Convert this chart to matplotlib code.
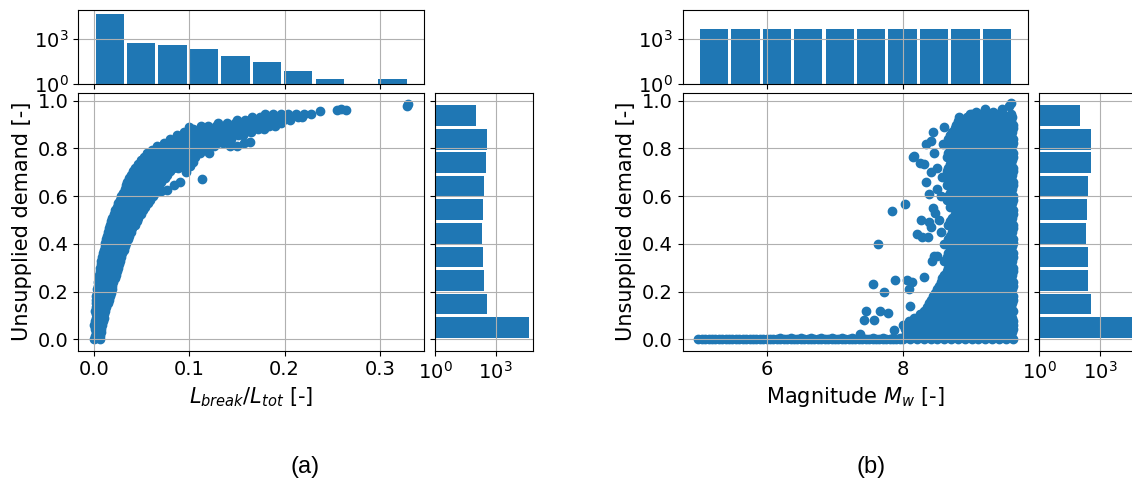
import matplotlib.pyplot as plt
from matplotlib.ticker import NullLocator

# ---- histogram data (counts) ----
demand_edges = [0.0, 0.0987, 0.1974, 0.2961, 0.3948, 0.4935, 0.5922, 0.6909, 0.7896, 0.8883, 0.987]
demand_counts = [44700, 372, 270, 245, 214, 234, 263, 347, 355, 102]

lbreak_edges = [0.0, 0.033, 0.066, 0.099, 0.132, 0.165, 0.198, 0.231, 0.264, 0.297, 0.33]
lbreak_counts = [45800, 510, 380, 218, 75, 30, 7, 2, 0, 2]

mag_edges = [5.0, 5.46, 5.92, 6.38, 6.84, 7.3, 7.76, 8.22, 8.68, 9.14, 9.6]
mag_counts = [4600, 4600, 4600, 4600, 4600, 4600, 4600, 4600, 4600, 4600]

# ---- scatter (a): L_break/L_tot vs unsupplied demand, rows of (y, xs) ----
lbreak_rows = [
    (0.00, [0.000, 0.006]),
    (0.015, [0.001, 0.006]),
    (0.03, [0.002, 0.007]),
    (0.045, [0.001, 0.007]),
    (0.06, [0.000, 0.008]),
    (0.075, [0.001, 0.009]),
    (0.09, [0.002, 0.010]),
    (0.105, [0.002, 0.010]),
    (0.12, [0.001, 0.009, 0.012]),
    (0.135, [0.002, 0.008, 0.013]),
    (0.15, [0.002, 0.010, 0.015]),
    (0.165, [0.002, 0.009, 0.016]),
    (0.18, [0.002, 0.010, 0.017]),
    (0.195, [0.003, 0.010, 0.018]),
    (0.21, [0.003, 0.011, 0.019]),
    (0.225, [0.004, 0.011, 0.019]),
    (0.24, [0.004, 0.012, 0.020]),
    (0.255, [0.005, 0.012, 0.019, 0.022]),
    (0.27, [0.005, 0.013, 0.021, 0.023]),
    (0.285, [0.006, 0.013, 0.020, 0.024]),
    (0.30, [0.006, 0.014, 0.022, 0.025]),
    (0.315, [0.007, 0.014, 0.021, 0.026]),
    (0.33, [0.007, 0.015, 0.023, 0.027]),
    (0.345, [0.008, 0.016, 0.023, 0.028]),
    (0.36, [0.009, 0.017, 0.025, 0.029]),
    (0.375, [0.010, 0.018, 0.026, 0.031]),
    (0.39, [0.011, 0.019, 0.027, 0.032]),
    (0.405, [0.012, 0.020, 0.028, 0.034]),
    (0.42, [0.013, 0.021, 0.029, 0.036]),
    (0.435, [0.014, 0.022, 0.030, 0.037]),
    (0.45, [0.015, 0.023, 0.031, 0.039]),
    (0.465, [0.016, 0.024, 0.032, 0.040]),
    (0.48, [0.017, 0.025, 0.033, 0.041, 0.043]),
    (0.495, [0.018, 0.026, 0.034, 0.042, 0.045]),
    (0.51, [0.019, 0.027, 0.035, 0.043, 0.046]),
    (0.525, [0.021, 0.029, 0.037, 0.045, 0.049]),
    (0.54, [0.022, 0.030, 0.038, 0.046, 0.051]),
    (0.555, [0.024, 0.032, 0.040, 0.048, 0.054]),
    (0.57, [0.025, 0.033, 0.041, 0.049, 0.057]),
    (0.585, [0.027, 0.035, 0.043, 0.051, 0.059]),
    (0.60, [0.028, 0.036, 0.044, 0.052, 0.060, 0.062]),
    (0.615, [0.030, 0.038, 0.046, 0.054, 0.062, 0.064]),
    (0.63, [0.032, 0.040, 0.048, 0.056, 0.064, 0.066]),
    (0.645, [0.034, 0.042, 0.050, 0.058, 0.066, 0.068]),
    (0.66, [0.035, 0.043, 0.051, 0.059, 0.067, 0.070]),
    (0.675, [0.037, 0.045, 0.053, 0.061, 0.069, 0.074]),
    (0.69, [0.039, 0.047, 0.055, 0.063, 0.071, 0.077]),
    (0.705, [0.041, 0.049, 0.057, 0.065, 0.073, 0.080]),
    (0.72, [0.043, 0.051, 0.059, 0.067, 0.075, 0.083, 0.088]),
    (0.735, [0.046, 0.054, 0.062, 0.070, 0.078, 0.086, 0.093]),
    (0.75, [0.049, 0.057, 0.065, 0.073, 0.081, 0.089, 0.097, 0.101]),
    (0.765, [0.052, 0.060, 0.068, 0.076, 0.084, 0.092, 0.100, 0.106]),
    (0.78, [0.056, 0.064, 0.072, 0.080, 0.088, 0.096, 0.104, 0.111]),
    (0.795, [0.061, 0.069, 0.077, 0.085, 0.093, 0.101, 0.109, 0.117]),
    (0.81, [0.066, 0.074, 0.082, 0.090, 0.098, 0.106, 0.114, 0.122, 0.126]),
    (0.825, [0.073, 0.081, 0.089, 0.097, 0.105, 0.113, 0.121, 0.129, 0.135]),
    (0.84, [0.080, 0.088, 0.096, 0.104, 0.112, 0.120, 0.128, 0.136, 0.144]),
    (0.855, [0.087, 0.095, 0.103, 0.111, 0.119, 0.127, 0.135, 0.143, 0.151, 0.156]),
    (0.87, [0.094, 0.102, 0.110, 0.118, 0.126, 0.134, 0.142, 0.150, 0.158, 0.165]),
    (0.883, [0.104, 0.114, 0.124, 0.132, 0.140, 0.148, 0.156, 0.164, 0.172, 0.178]),
    (0.895, [0.112, 0.120, 0.128, 0.136, 0.144, 0.152, 0.160, 0.168, 0.176, 0.184, 0.190]),
    (0.908, [0.130, 0.140, 0.148, 0.156, 0.164, 0.172, 0.180, 0.188, 0.196]),
    (0.92, [0.150, 0.158, 0.166, 0.174, 0.182, 0.190, 0.198, 0.206]),
    (0.933, [0.166, 0.174, 0.182, 0.190, 0.198, 0.206, 0.214, 0.218]),
    (0.945, [0.180, 0.188, 0.196, 0.204, 0.212, 0.220, 0.228]),
]
lbreak_extra_x = [0.070, 0.077, 0.084, 0.090, 0.097, 0.101, 0.104, 0.113, 0.121, 0.143,
                  0.150, 0.157, 0.164, 0.100, 0.237, 0.255, 0.259, 0.265, 0.329, 0.330]
lbreak_extra_y = [0.620, 0.625, 0.645, 0.660, 0.700, 0.725, 0.745, 0.670, 0.780, 0.812,
                  0.812, 0.825, 0.828, 0.892, 0.958, 0.962, 0.966, 0.962, 0.978, 0.985]

# ---- scatter (b): magnitude vs unsupplied demand, rows of (y, xs) ----
mag_rows = [
    (0.00, [5.0, 5.1, 5.2, 5.3, 5.4, 5.5, 5.6, 5.7, 5.8, 5.9, 6.0, 6.1, 6.2, 6.3, 6.4, 6.5,
            6.6, 6.7, 6.8, 6.9, 7.0, 7.1, 7.2, 7.3, 7.4, 7.5, 7.6, 7.7, 7.8, 7.9, 8.0, 8.1,
            8.2, 8.3, 8.4, 8.5, 8.6, 8.7, 8.8, 8.9, 9.0, 9.1, 9.2, 9.3, 9.4, 9.5, 9.6]),
    (0.00, [5.05, 5.15, 5.25, 5.35, 5.45, 5.55, 5.65, 5.75, 5.85, 5.95, 6.05, 6.15, 6.25,
            6.35, 6.45, 6.55, 6.65, 6.75, 6.85, 6.95, 7.05, 7.15, 7.25, 7.35, 7.45, 7.55,
            7.65, 7.75, 7.85, 7.95]),
    (0.006, [6.2, 6.35, 6.5, 6.65, 6.8, 6.95, 7.1, 7.25, 7.4, 7.55, 7.7, 7.85, 7.95]),
    (0.015, [8.02, 8.13, 8.24, 8.35, 8.46, 8.58, 8.69, 8.80, 8.91, 9.02, 9.13, 9.24, 9.35, 9.46, 9.57]),
    (0.03, [8.05, 8.16, 8.27, 8.38, 8.49, 8.60, 8.71, 8.82, 8.93, 9.04, 9.15, 9.26, 9.37, 9.48, 9.59]),
    (0.045, [8.03, 8.10, 8.20, 8.31, 8.42, 8.53, 8.64, 8.75, 8.86, 8.97, 9.08, 9.19, 9.30, 9.41, 9.52, 9.60]),
    (0.06, [8.00, 8.11, 8.22, 8.33, 8.44, 8.55, 8.66, 8.77, 8.88, 8.99, 9.10, 9.21, 9.32, 9.43, 9.54, 9.60]),
    (0.075, [8.08, 8.19, 8.30, 8.41, 8.52, 8.63, 8.74, 8.85, 8.96, 9.07, 9.18, 9.29, 9.40, 9.51, 9.60]),
    (0.09, [8.16, 8.27, 8.38, 8.49, 8.60, 8.71, 8.82, 8.93, 9.04, 9.15, 9.26, 9.37, 9.48, 9.59]),
    (0.105, [8.24, 8.35, 8.46, 8.57, 8.69, 8.80, 8.91, 9.02, 9.13, 9.24, 9.35, 9.46, 9.57]),
    (0.12, [8.30, 8.44, 8.55, 8.66, 8.77, 8.88, 8.99, 9.10, 9.21, 9.32, 9.43, 9.54, 9.60]),
    (0.135, [8.35, 8.46, 8.57, 8.69, 8.80, 8.91, 9.02, 9.13, 9.24, 9.35, 9.46, 9.57]),
    (0.15, [8.38, 8.49, 8.60, 8.71, 8.82, 8.93, 9.04, 9.15, 9.26, 9.37, 9.48, 9.59]),
    (0.165, [8.41, 8.52, 8.64, 8.75, 8.86, 8.97, 9.08, 9.19, 9.30, 9.41, 9.52, 9.60]),
    (0.18, [8.44, 8.55, 8.66, 8.77, 8.88, 8.99, 9.10, 9.21, 9.32, 9.43, 9.54, 9.60]),
    (0.195, [8.46, 8.57, 8.69, 8.80, 8.91, 9.02, 9.13, 9.24, 9.35, 9.46, 9.57]),
    (0.21, [8.49, 8.60, 8.71, 8.82, 8.93, 9.04, 9.15, 9.26, 9.37, 9.48, 9.59]),
    (0.225, [8.52, 8.64, 8.75, 8.86, 8.97, 9.08, 9.19, 9.30, 9.41, 9.52, 9.60]),
    (0.24, [8.55, 8.66, 8.77, 8.88, 8.99, 9.10, 9.21, 9.32, 9.43, 9.54, 9.60]),
    (0.255, [8.57, 8.69, 8.80, 8.91, 9.02, 9.13, 9.24, 9.35, 9.46, 9.57]),
    (0.27, [8.60, 8.71, 8.82, 8.93, 9.04, 9.15, 9.26, 9.37, 9.48, 9.59]),
    (0.285, [8.64, 8.75, 8.86, 8.97, 9.08, 9.19, 9.30, 9.41, 9.52, 9.60]),
    (0.30, [8.66, 8.77, 8.88, 8.99, 9.10, 9.21, 9.32, 9.43, 9.54, 9.60]),
    (0.315, [8.69, 8.80, 8.91, 9.02, 9.13, 9.24, 9.35, 9.46, 9.57]),
    (0.33, [8.60, 8.71, 8.82, 8.93, 9.04, 9.15, 9.26, 9.37, 9.48, 9.59]),
    (0.345, [8.64, 8.75, 8.86, 8.97, 9.08, 9.19, 9.30, 9.41, 9.52, 9.60]),
    (0.36, [8.66, 8.77, 8.88, 8.99, 9.10, 9.21, 9.32, 9.43, 9.54, 9.60]),
    (0.375, [8.69, 8.80, 8.91, 9.02, 9.13, 9.24, 9.35, 9.46, 9.57]),
    (0.39, [8.71, 8.82, 8.93, 9.04, 9.15, 9.26, 9.37, 9.48, 9.59]),
    (0.405, [8.64, 8.75, 8.86, 8.97, 9.08, 9.19, 9.30, 9.41, 9.52, 9.60]),
    (0.42, [8.66, 8.77, 8.88, 8.99, 9.10, 9.21, 9.32, 9.43, 9.54, 9.60]),
    (0.435, [8.69, 8.80, 8.91, 9.02, 9.13, 9.24, 9.35, 9.46, 9.57]),
    (0.45, [8.71, 8.82, 8.93, 9.04, 9.15, 9.26, 9.37, 9.48, 9.59]),
    (0.465, [8.75, 8.86, 8.97, 9.08, 9.19, 9.30, 9.41, 9.52, 9.60]),
    (0.48, [8.66, 8.77, 8.88, 8.99, 9.10, 9.21, 9.32, 9.43, 9.54, 9.60]),
    (0.495, [8.69, 8.80, 8.91, 9.02, 9.13, 9.24, 9.35, 9.46, 9.57]),
    (0.51, [8.71, 8.82, 8.93, 9.04, 9.15, 9.26, 9.37, 9.48, 9.59]),
    (0.525, [8.75, 8.86, 8.97, 9.08, 9.19, 9.30, 9.41, 9.52, 9.60]),
    (0.54, [8.77, 8.88, 8.99, 9.10, 9.21, 9.32, 9.43, 9.54, 9.60]),
    (0.555, [8.69, 8.80, 8.91, 9.02, 9.13, 9.24, 9.35, 9.46, 9.57]),
    (0.57, [8.71, 8.82, 8.93, 9.04, 9.15, 9.26, 9.37, 9.48, 9.59]),
    (0.585, [8.64, 8.75, 8.86, 8.97, 9.08, 9.19, 9.30, 9.41, 9.52, 9.60]),
    (0.60, [8.66, 8.77, 8.88, 8.99, 9.10, 9.21, 9.32, 9.43, 9.54, 9.60]),
    (0.615, [8.69, 8.80, 8.91, 9.02, 9.13, 9.24, 9.35, 9.46, 9.57]),
    (0.63, [8.71, 8.82, 8.93, 9.04, 9.15, 9.26, 9.37, 9.48, 9.59]),
    (0.645, [8.64, 8.75, 8.86, 8.97, 9.08, 9.19, 9.30, 9.41, 9.52, 9.60]),
    (0.66, [8.66, 8.77, 8.88, 8.99, 9.10, 9.21, 9.32, 9.43, 9.54, 9.60]),
    (0.675, [8.69, 8.80, 8.91, 9.02, 9.13, 9.24, 9.35, 9.46, 9.57]),
    (0.69, [8.71, 8.82, 8.93, 9.04, 9.15, 9.26, 9.37, 9.48, 9.59]),
    (0.705, [8.64, 8.75, 8.86, 8.97, 9.08, 9.19, 9.30, 9.41, 9.52, 9.60]),
    (0.72, [8.66, 8.77, 8.88, 8.99, 9.10, 9.21, 9.32, 9.43, 9.54, 9.60]),
    (0.735, [8.69, 8.80, 8.91, 9.02, 9.13, 9.24, 9.35, 9.46, 9.57]),
    (0.75, [8.71, 8.82, 8.93, 9.04, 9.15, 9.26, 9.37, 9.48, 9.59]),
    (0.765, [8.64, 8.75, 8.86, 8.97, 9.08, 9.19, 9.30, 9.41, 9.52, 9.60]),
    (0.78, [8.66, 8.77, 8.88, 8.99, 9.10, 9.21, 9.32, 9.43, 9.54, 9.60]),
    (0.795, [8.69, 8.80, 8.91, 9.02, 9.13, 9.24, 9.35, 9.46, 9.57]),
    (0.81, [8.71, 8.82, 8.93, 9.04, 9.15, 9.26, 9.37, 9.48, 9.59]),
    (0.825, [8.64, 8.75, 8.86, 8.97, 9.08, 9.19, 9.30, 9.41, 9.52, 9.60]),
    (0.84, [8.66, 8.77, 8.88, 8.99, 9.10, 9.21, 9.32, 9.43, 9.54, 9.60]),
    (0.855, [8.69, 8.80, 8.91, 9.02, 9.13, 9.24, 9.35, 9.46, 9.57]),
    (0.87, [8.71, 8.82, 8.93, 9.04, 9.15, 9.26, 9.37, 9.48, 9.59]),
    (0.885, [8.75, 8.86, 8.97, 9.08, 9.19, 9.30, 9.41, 9.52, 9.60]),
    (0.90, [8.77, 8.88, 8.99, 9.10, 9.21, 9.32, 9.43, 9.54, 9.60]),
    (0.915, [8.80, 8.91, 9.02, 9.13, 9.24, 9.35, 9.46, 9.57]),
    (0.93, [8.93, 9.04, 9.15, 9.26, 9.37, 9.48, 9.59]),
    (0.945, [9.00, 9.13, 9.24, 9.35, 9.46, 9.57]),
]
mag_extra_x = [7.84, 8.03, 7.63, 8.14, 8.24, 8.30, 8.33, 8.40, 8.44, 8.59, 8.82, 8.97, 9.07,
               9.20, 9.32, 9.45, 9.55, 9.58, 8.33, 8.37, 8.43, 8.47, 8.26, 8.20, 8.27, 8.36,
               8.45, 8.50, 8.42, 8.30, 7.55, 7.88, 7.72, 8.05, 8.13, 8.08, 7.46, 7.66, 7.77,
               7.43, 7.57, 7.87, 8.10, 7.37, 8.50, 8.45, 8.55, 8.55, 8.40, 8.50, 8.52, 8.60,
               8.38, 8.40, 8.15, 8.58, 8.57]
mag_extra_y = [0.536, 0.568, 0.400, 0.766, 0.740, 0.735, 0.820, 0.830, 0.870, 0.890, 0.930,
               0.945, 0.955, 0.965, 0.955, 0.965, 0.980, 0.990, 0.660, 0.610, 0.550, 0.530,
               0.500, 0.440, 0.430, 0.430, 0.350, 0.350, 0.330, 0.260, 0.230, 0.250, 0.200,
               0.250, 0.240, 0.210, 0.120, 0.120, 0.110, 0.080, 0.080, 0.040, 0.140, 0.020,
               0.720, 0.780, 0.600, 0.450, 0.700, 0.630, 0.500, 0.400, 0.490, 0.470, 0.770,
               0.820, 0.680]

blue = '#1f77b4'

plt.rcParams['font.size'] = 14
plt.rcParams['axes.labelsize'] = 15
fig = plt.figure(figsize=(11.32, 4.84), dpi=100)


def flatten(rows, ex_x, ex_y):
    xs, ys = [], []
    for y, row in rows:
        xs += row
        ys += [y] * len(row)
    return xs + ex_x, ys + ex_y


def centers(edges):
    return [(a + b) / 2 for a, b in zip(edges[:-1], edges[1:])]


def panel(left, xs, ys, x_edges, x_counts, xlim, xticks, xlabel, caption, cap_x):
    ax = fig.add_axes([left, 0.2754, 0.3054, 0.5331])
    ax_top = fig.add_axes([left, 0.8264, 0.3054, 0.1529], sharex=ax)
    ax_right = fig.add_axes([left + 0.3151, 0.2754, 0.0868, 0.5331], sharey=ax)

    ax.scatter(xs, ys, s=36, color=blue)
    ax.set_xlim(*xlim)
    ax.set_ylim(-0.048, 1.034)
    ax.set_xticks(xticks)
    ax.set_yticks([0.0, 0.2, 0.4, 0.6, 0.8, 1.0])
    ax.set_xlabel(xlabel)
    ax.set_ylabel('Unsupplied demand [-]')
    ax.grid(True)

    # top marginal histogram (log counts)
    ax_top.set_yscale('log')
    bw = x_edges[1] - x_edges[0]
    ax_top.bar(centers(x_edges), x_counts, width=0.9 * bw, color=blue)
    ax_top.set_ylim(1, 10 ** 4.9)
    ax_top.set_yticks([1, 1000])
    ax_top.yaxis.set_minor_locator(NullLocator())
    ax_top.tick_params(labelbottom=False)
    ax_top.grid(True)

    # right marginal histogram (log counts)
    ax_right.set_xscale('log')
    bh = demand_edges[1] - demand_edges[0]
    ax_right.barh(centers(demand_edges), demand_counts, height=0.88 * bh, color=blue)
    ax_right.set_xlim(1, 10 ** 4.86)
    ax_right.set_xticks([1, 1000])
    ax_right.xaxis.set_minor_locator(NullLocator())
    ax_right.tick_params(labelleft=False)
    ax_right.grid(True)

    fig.text(cap_x, 0.0357, caption, ha='center', va='center',
             fontsize=17, family='Liberation Sans')


xa, ya = flatten(lbreak_rows, lbreak_extra_x, lbreak_extra_y)
panel(0.0692, xa, ya, lbreak_edges, lbreak_counts, (-0.0165, 0.3465),
      [0.0, 0.1, 0.2, 0.3], r'$L_{break}/L_{tot}$ [-]', '(a)', 305 / 1132)

xb, yb = flatten(mag_rows, mag_extra_x, mag_extra_y)
panel(0.6030, xb, yb, mag_edges, mag_counts, (4.77, 9.83),
      [6, 8], r'Magnitude $M_w$ [-]', '(b)', 871 / 1132)

fig.savefig('out.png', dpi=100)
